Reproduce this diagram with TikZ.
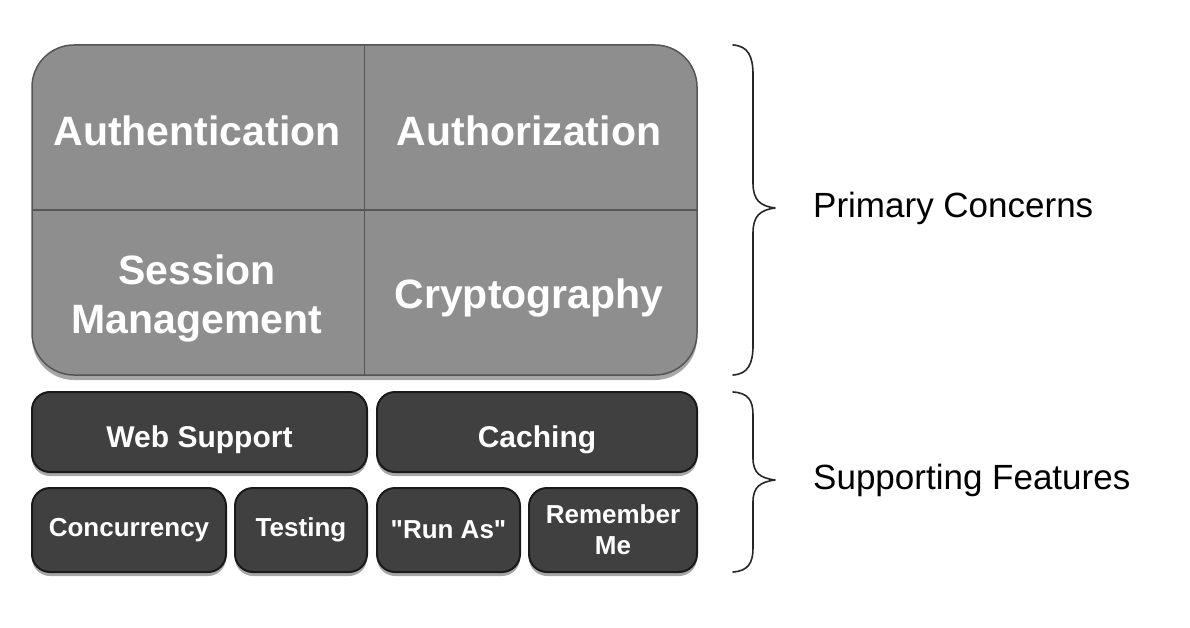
\documentclass[tikz,border=0pt]{standalone}
\usepackage{fontspec}
\setmainfont{Liberation Sans}[Ligatures=TeXOff]
\usetikzlibrary{shadows}
\definecolor{primfill}{HTML}{8E8E8E}
\definecolor{primline}{HTML}{555555}
\definecolor{darkfill}{HTML}{404040}
\definecolor{darkline}{HTML}{1A1A1A}
\tikzset{
  primbox/.style={draw=primline, line width=1.5pt, fill=primfill, rounded corners=42pt,
    inner sep=0pt, outer sep=0pt, minimum width=665pt, minimum height=330pt,
    drop shadow={shadow xshift=0pt, shadow yshift=-5pt, opacity=0.35, fill=black}},
  cell/.style={text=white, font=\bfseries\fontsize{41}{49}\selectfont, align=center, inner sep=0pt},
  featbox/.style={draw=darkline, line width=2pt, fill=darkfill, rounded corners=18pt,
    inner sep=0pt, outer sep=0pt, text=white, align=center,
    drop shadow={shadow xshift=0pt, shadow yshift=-4pt, opacity=0.35, fill=black}},
  bigfeat/.style={featbox, minimum height=80pt, text height=30pt, text depth=0pt,
    font=\bfseries\fontsize{30}{34}\selectfont},
  smallfeat/.style={featbox, minimum height=84pt, font=\bfseries\fontsize{26}{30}\selectfont},
  divider/.style={draw=primline, line width=1.2pt},
  bracepath/.style={draw=black!85, line width=1.6pt, line cap=round, line join=round},
  sidelabel/.style={anchor=west, inner sep=0pt, font=\fontsize{35}{40}\selectfont}
}
\begin{document}
\begin{tikzpicture}[x=1pt,y=-1pt]
\useasboundingbox (0,0) rectangle (1190,628);
\fill[white] (0,0) rectangle (1190,628);

% primary concerns block
\node[primbox] (prim) at (364.5,210) {};
\draw[divider] (prim.north) -- (prim.south);
\draw[divider] (prim.west) -- (prim.east);
\node[cell] (authn) at (197,131) {Authentication};
\node[cell] (authz) at (529,131) {Authorization};
\node[cell] (sess) at (197,298) {Session\\Management};
\node[cell] (crypto) at (529,298) {Cryptography};

% supporting features
\node[bigfeat, minimum width=335pt] (web) at (199.5,432) {Web Support};
\node[bigfeat, minimum width=320pt] (cache) at (537,432) {Caching};
\node[smallfeat, minimum width=194pt] (conc) at (129,530) {Concurrency};
\node[smallfeat, minimum width=132pt] (test) at (301,530) {Testing};
\node[smallfeat, minimum width=143pt] (runas) at (448.5,530) {"Run As"};
\node[smallfeat, minimum width=168pt, font=\bfseries\fontsize{26}{31}\selectfont] (remember) at (613,530) {Remember\\Me};

% braces
\coordinate (b1top) at (733,45);
\coordinate (b1tip) at (775,208);
\coordinate (b1bot) at (733,375);
\draw[bracepath] (b1top) .. controls (748,46) and (753,56) .. (753,75)
  -- (753,183) .. controls (753,200) and (760,206) .. (b1tip)
  .. controls (760,210) and (753,216) .. (753,233)
  -- (753,345) .. controls (753,364) and (748,374) .. (b1bot);
\coordinate (b2top) at (733,392);
\coordinate (b2tip) at (775,480);
\coordinate (b2bot) at (733,572);
\draw[bracepath] (b2top) .. controls (748,393) and (753,400) .. (753,415)
  -- (753,458) .. controls (753,473) and (760,478) .. (b2tip)
  .. controls (760,482) and (753,487) .. (753,502)
  -- (753,548) .. controls (753,563) and (748,571) .. (b2bot);

\node[sidelabel] (primlbl) at (813,208) {Primary Concerns};
\node[sidelabel] (supplbl) at (813,480) {Supporting Features};
\end{tikzpicture}
\end{document}
